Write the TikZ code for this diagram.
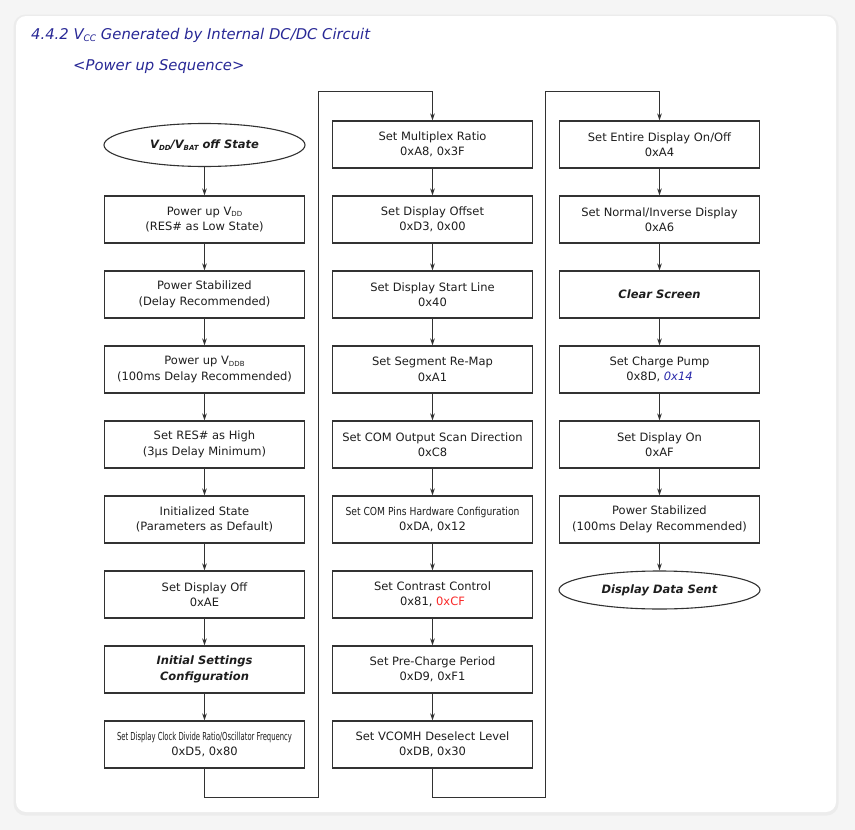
\documentclass[tikz,border=0pt]{standalone}
\usepackage{fontspec}
\setmainfont{DejaVu Sans}
\usetikzlibrary{shapes.geometric,arrows.meta}
\definecolor{pagebg}{RGB}{245,245,245}
\definecolor{cardshadow}{RGB}{236,236,236}
\definecolor{titleblue}{RGB}{40,40,150}
\definecolor{valblue}{RGB}{40,40,170}
\definecolor{valred}{RGB}{250,40,40}
\definecolor{ink}{RGB}{30,30,30}
\definecolor{edge}{RGB}{50,50,50}
\newcommand\sbs[1]{\raisebox{-1.6pt}{\fontsize{7}{7}\selectfont #1}}
\newcommand\tsbs[1]{\raisebox{-2pt}{\fontsize{9}{9}\selectfont #1}}
\newcommand\squeeze[2]{\resizebox{#1pt}{\height}{\fontsize{11}{13}\selectfont #2}}
\begin{document}
\begin{tikzpicture}[x=1pt,y=-1pt,
  stepbox/.style={draw=edge,line width=1.1pt,minimum width=200pt,minimum height=47pt,
    inner sep=0pt,align=center,text=ink,font=\fontsize{11.5}{15.5}\selectfont},
  endbox/.style={ellipse,draw=edge,line width=1.1pt,minimum width=201pt,inner sep=0pt,
    text=ink,font=\fontsize{11.5}{15.5}\selectfont\bfseries\itshape},
  arr/.style={draw=edge,line width=0.9pt,-{Stealth[length=7pt,width=4.5pt]}},
  title/.style={anchor=base west,text=titleblue,inner sep=0pt,font=\fontsize{14.8}{17}\selectfont\itshape}]
\useasboundingbox (0,0) rectangle (855,830);
\fill[pagebg] (0,0) rectangle (855,830);
\fill[cardshadow,rounded corners=12pt] (13.5,14.5) rectangle (838.5,815.5);
\fill[white,rounded corners=10pt] (16,16) rectangle (836,812);

\node[title] (t1) at (31,39) {4.4.2 V\tsbs{CC} Generated by Internal DC/DC Circuit};
\node[title] (t2) at (73,70) {<Power up Sequence>};

% column 1
\node[endbox,minimum height=43pt] (c1s) at (204.5,145) {V\sbs{DD}/V\sbs{BAT} off State};
\node[stepbox] (c1a) at (204.5,219.5) {Power up V\sbs{DD}\\(RES\# as Low State)};
\node[stepbox] (c1b) at (204.5,294.5) {Power Stabilized\\(Delay Recommended)};
\node[stepbox] (c1c) at (204.5,369.5) {Power up V\sbs{DDB}\\(100ms Delay Recommended)};
\node[stepbox] (c1d) at (204.5,444.5) {Set RES\# as High\\(3µs Delay Minimum)};
\node[stepbox] (c1e) at (204.5,519.5) {Initialized State\\(Parameters as Default)};
\node[stepbox] (c1f) at (204.5,594.5) {Set Display Off\\0xAE};
\node[stepbox,font=\fontsize{11.5}{16.5}\selectfont\bfseries\itshape] (c1g) at (204.5,669.5) {Initial Settings\\Configuration};
\node[stepbox] (c1h) at (204.5,744.5) {\squeeze{175}{Set Display Clock Divide Ratio/Oscillator Frequency}\\0xD5, 0x80};

% column 2
\node[stepbox] (c2a) at (432.5,144.5) {Set Multiplex Ratio\\0xA8, 0x3F};
\node[stepbox] (c2b) at (432.5,219.5) {Set Display Offset\\0xD3, 0x00};
\node[stepbox] (c2c) at (432.5,294.5) {Set Display Start Line\\0x40};
\node[stepbox] (c2d) at (432.5,369.5) {Set Segment Re-Map\\0xA1};
\node[stepbox] (c2e) at (432.5,444.5) {Set COM Output Scan Direction\\0xC8};
\node[stepbox] (c2f) at (432.5,519.5) {\squeeze{174}{Set COM Pins Hardware Configuration}\\0xDA, 0x12};
\node[stepbox] (c2g) at (432.5,594.5) {Set Contrast Control\\0x81, {\color{valred}0xCF}};
\node[stepbox] (c2h) at (432.5,669.5) {Set Pre-Charge Period\\0xD9, 0xF1};
\node[stepbox] (c2i) at (432.5,744.5) {Set VCOMH Deselect Level\\0xDB, 0x30};

% column 3
\node[stepbox] (c3a) at (659.5,144.5) {Set Entire Display On/Off\\0xA4};
\node[stepbox] (c3b) at (659.5,219.5) {Set Normal/Inverse Display\\0xA6};
\node[stepbox,font=\fontsize{11.5}{15.5}\selectfont\bfseries\itshape] (c3c) at (659.5,294.5) {Clear Screen};
\node[stepbox] (c3d) at (659.5,369.5) {Set Charge Pump\\0x8D, {\color{valblue}\itshape 0x14}};
\node[stepbox] (c3e) at (659.5,444.5) {Set Display On\\0xAF};
\node[stepbox] (c3f) at (659.5,519.5) {Power Stabilized\\(100ms Delay Recommended)};
\node[endbox,minimum height=38pt] (c3s) at (659.5,590) {Display Data Sent};

% connectors
\foreach \a/\b in {c1s/c1a,c1a/c1b,c1b/c1c,c1c/c1d,c1d/c1e,c1e/c1f,c1f/c1g,c1g/c1h,
  c2a/c2b,c2b/c2c,c2c/c2d,c2d/c2e,c2e/c2f,c2f/c2g,c2g/c2h,c2h/c2i,
  c3a/c3b,c3b/c3c,c3c/c3d,c3d/c3e,c3e/c3f,c3f/c3s}
  \draw[arr] (\a) -- (\b);

\coordinate (j1a) at (318,797.5);
\coordinate (j1b) at (318,91);
\coordinate (j2a) at (545.5,797.5);
\coordinate (j2b) at (545.5,91);
\draw[arr] (c1h.south) |- (j1a) -- (j1b) -| (c2a.north);
\draw[arr] (c2i.south) |- (j2a) -- (j2b) -| (c3a.north);
\end{tikzpicture}
\end{document}
